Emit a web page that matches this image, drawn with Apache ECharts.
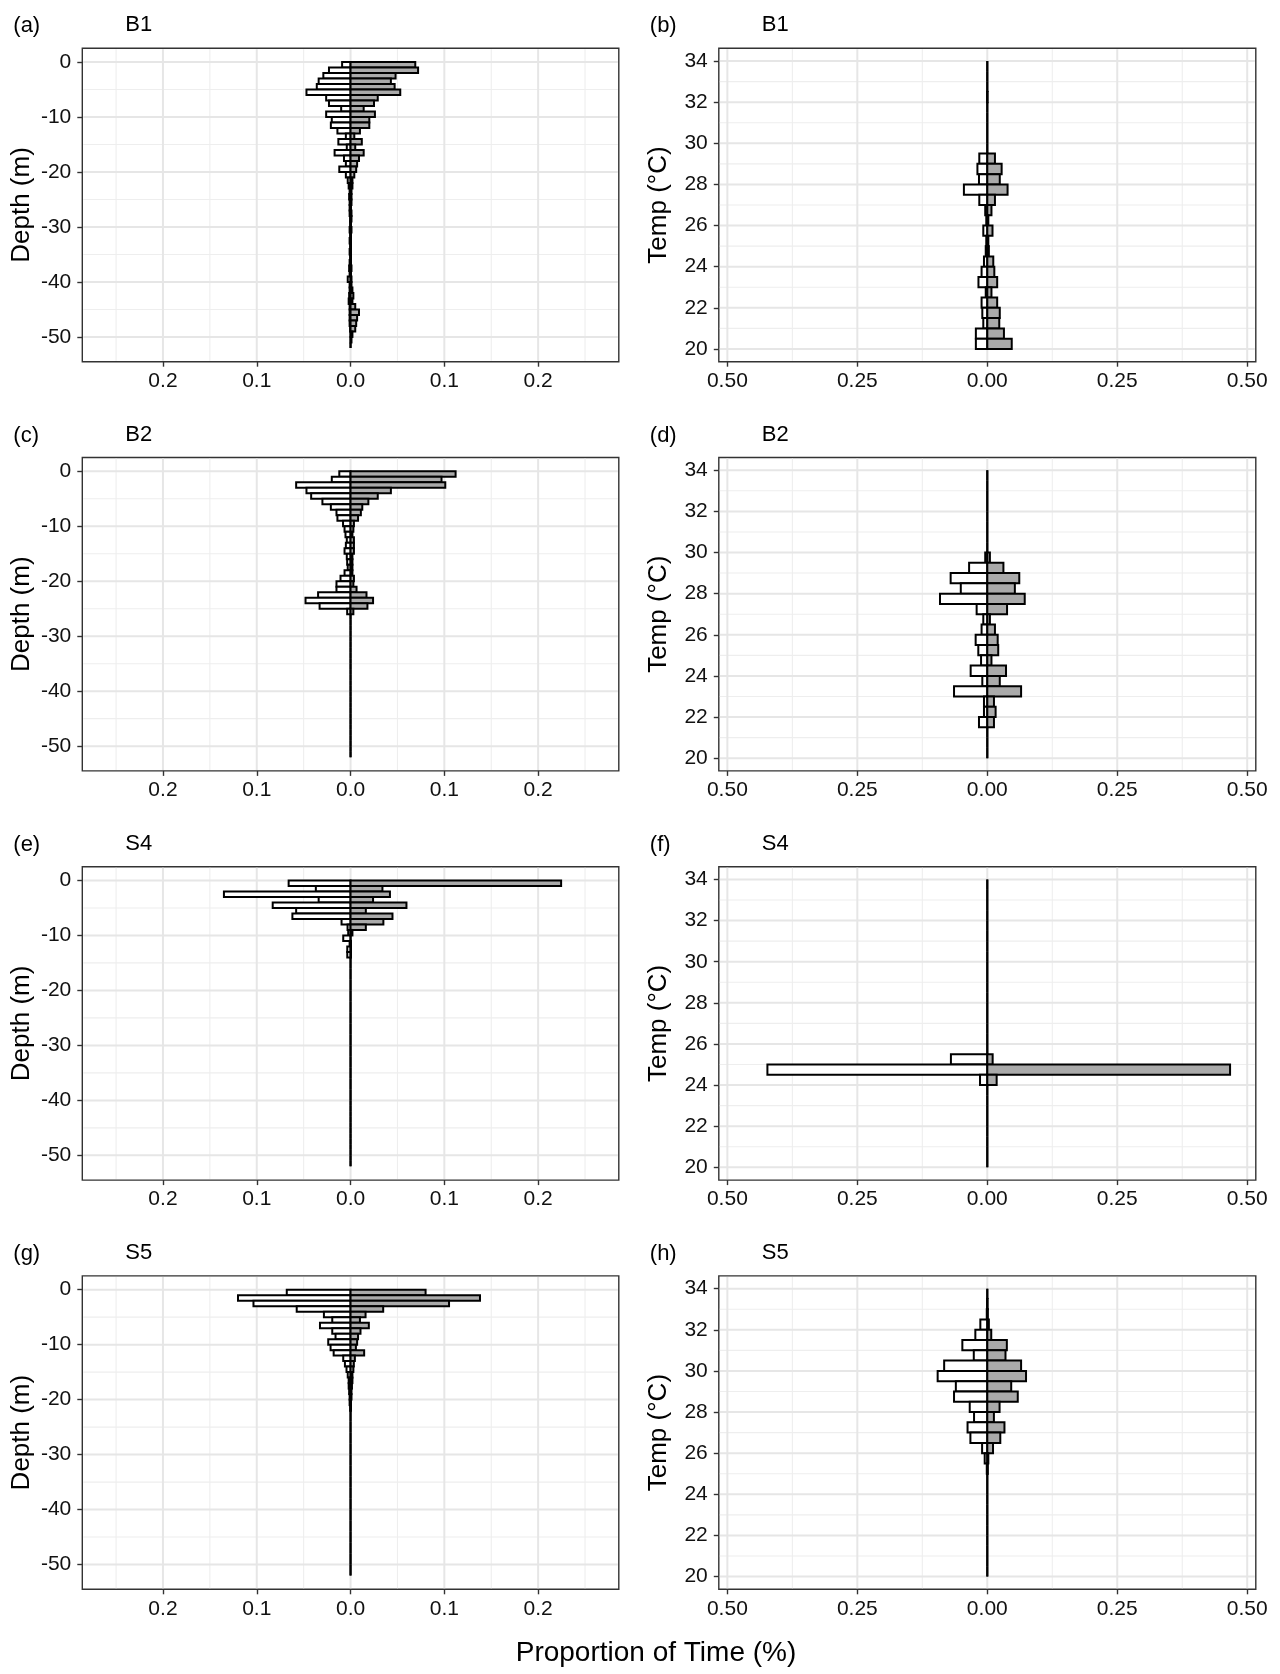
<!DOCTYPE html>
<html>
<head>
<meta charset="utf-8">
<script src="https://cdn.jsdelivr.net/npm/echarts@6/dist/echarts.min.js"></script>
<style>html,body{margin:0;padding:0;background:#fff}#chart{width:1280px;height:1674px}</style>
</head>
<body>
<div id="chart"></div>
<script>
// ---------- bins ----------
const depthBinTops = [0,-1,-2,-3,-4,-5,-6,-7,-8,-9,-10,-11,-12,-13,-14,-15,-16,-17,-18,-19,-20,-21,-22,-23,-24,-25,-26,-27,-28,-29,-30,-31,-32,-33,-34,-35,-36,-37,-38,-39,-40,-41,-42,-43,-44,-45,-46,-47,-48,-49,-50,-51];
const tempBinTops = [34,33.5,33,32.5,32,31.5,31,30.5,30,29.5,29,28.5,28,27.5,27,26.5,26,25.5,25,24.5,24,23.5,23,22.5,22,21.5,21,20.5];

// ---------- tick labels ----------
const depthTicks = [0,-10,-20,-30,-40,-50];
const depthMinorTicks = [-5,-15,-25,-35,-45];
const tempTicks = [20,22,24,26,28,30,32,34];
const tempMinorTicks = [21,23,25,27,29,31,33];
const depthPropTicks = [-0.2,-0.1,0,0.1,0.2];
const depthPropMinorTicks = [-0.25,-0.15,-0.05,0.05,0.15,0.25];
const tempPropTicks = [-0.5,-0.25,0,0.25,0.5];
const tempPropMinorTicks = [-0.375,-0.125,0.125,0.375];

// ---------- B1 ----------
const b1DepthWhite = [0.009,0.023,0.029,0.034,0.036,0.047,0.026,0.023,0.010,0.026,
 0.020,0.021,0.014,0.005,0.013,0.004,0.017,0.007,0.005,0.012,
 0.005,0.003,0.002,0.001,0.0015,0.001,0.001,0.001,0.0005,0.0005,
 0.001,0.0005,0.001,0.0005,0.001,0.0005,0.001,0.0015,0.001,0.003,
 0.001,0.001,0.0015,0.002,0.001,0.001,0.001,0.001,0.0005,0,
 0,0];
const b1DepthGrey = [0.069,0.072,0.048,0.043,0.047,0.053,0.029,0.025,0.014,0.026,
 0.020,0.020,0.010,0.004,0.012,0.005,0.014,0.009,0.007,0.006,
 0.004,0.002,0.002,0.001,0.001,0.001,0.0005,0.001,0.001,0.0005,
 0.001,0.0005,0.0005,0.0005,0.0005,0.0005,0.0005,0.001,0.0005,0.001,
 0.001,0.002,0.003,0.002,0.005,0.009,0.007,0.006,0.005,0.002,
 0.001,0];
const b1TempWhite = [0,0,0,0.0005,0,0,0,0,0,0.0154,
 0.019,0.016,0.045,0.0154,0.004,0.002,0.0077,0.002,0.003,0.0064,
 0.011,0.017,0.003,0.011,0.0096,0.0077,0.022,0.022];
const b1TempGrey = [0,0,0,0.0005,0,0,0,0,0,0.0147,
 0.0276,0.024,0.039,0.0147,0.008,0.002,0.010,0.002,0.003,0.0115,
 0.0135,0.019,0.008,0.019,0.024,0.023,0.032,0.047];

// ---------- B2 ----------
const b2DepthWhite = [0.012,0.020,0.058,0.047,0.042,0.030,0.021,0.015,0.014,0.008,
 0.0064,0.0054,0.004,0.005,0.0064,0.004,0.0036,0.003,0.0064,0.0107,
 0.015,0.015,0.0346,0.048,0.033,0.0036,0,0,0,0,
 0,0,0,0,0,0,0,0,0,0,
 0,0,0,0,0,0,0,0,0,0,
 0,0];
const b2DepthGrey = [0.112,0.097,0.101,0.043,0.029,0.019,0.0125,0.011,0.008,0.0036,
 0.003,0.002,0.0036,0.0036,0.0036,0.002,0.002,0.002,0.002,0.0036,
 0.003,0.0064,0.017,0.024,0.018,0.003,0,0,0,0,
 0,0,0,0,0,0,0,0,0,0,
 0,0,0,0,0,0,0,0,0,0,
 0,0];
const b2TempWhite = [0,0,0,0,0,0,0,0,0.004,0.035,
 0.0705,0.051,0.091,0.0205,0.0077,0.011,0.0224,0.0173,0.012,0.032,
 0.0096,0.064,0.0064,0.0064,0.016,0,0,0];
const b2TempGrey = [0,0,0,0,0,0,0,0,0.005,0.031,
 0.0615,0.053,0.072,0.038,0.005,0.0147,0.020,0.021,0.008,0.036,
 0.024,0.065,0.0128,0.016,0.0128,0,0,0];

// ---------- S4 ----------
const s4DepthWhite = [0.066,0.037,0.135,0.034,0.083,0.058,0.062,0.0096,0.0032,0.0025,
 0.0078,0.001,0.0035,0.0035,0,0,0,0,0,0,
 0,0,0,0,0,0,0,0,0,0,
 0,0,0,0,0,0,0,0,0,0,
 0,0,0,0,0,0,0,0,0,0,
 0,0];
const s4DepthGrey = [0.2245,0.034,0.042,0.024,0.0596,0.0163,0.0447,0.035,0.0163,0.002,
 0,0.0005,0.0005,0.0005,0,0,0,0,0,0,
 0,0,0,0,0,0,0,0,0,0,
 0,0,0,0,0,0,0,0,0,0,
 0,0,0,0,0,0,0,0,0,0,
 0,0];
const s4TempWhite = [0,0,0,0,0,0,0,0,0,0,
 0,0,0,0,0,0,0,0.070,0.423,0.014,
 0,0,0,0,0,0,0,0];
const s4TempGrey = [0,0,0,0,0,0,0,0,0,0,
 0,0,0,0,0,0,0,0.0103,0.467,0.018,
 0,0,0,0,0,0,0,0];

// ---------- S5 ----------
const s5DepthWhite = [0.068,0.120,0.1035,0.0574,0.0284,0.0195,0.0326,0.0195,0.016,0.0238,
 0.0213,0.018,0.0078,0.006,0.0043,0.003,0.002,0.002,0.0015,0.001,
 0.001,0.0005,0,0,0,0,0,0,0,0,
 0,0,0,0,0,0,0,0,0,0,
 0,0,0,0,0,0,0,0,0,0,
 0,0];
const s5DepthGrey = [0.080,0.138,0.105,0.0348,0.016,0.010,0.0195,0.0106,0.008,0.007,
 0.0057,0.0145,0.0046,0.0035,0.003,0.002,0.002,0.0015,0.001,0.001,
 0.0005,0.0005,0,0,0,0,0,0,0,0,
 0,0,0,0,0,0,0,0,0,0,
 0,0,0,0,0,0,0,0,0,0,
 0,0];
const s5TempWhite = [0,0.0005,0.001,0.0134,0.023,0.048,0.026,0.083,0.0955,0.0605,
 0.064,0.0338,0.0255,0.038,0.0325,0.010,0.005,0.001,0,0,
 0,0,0,0,0,0,0,0];
const s5TempGrey = [0,0.0005,0.001,0.003,0.0076,0.0376,0.035,0.065,0.0745,0.046,
 0.0586,0.0236,0.0127,0.033,0.025,0.011,0.002,0.001,0,0,
 0,0,0,0,0,0,0,0];

const panels = [
  {tag:'(a)', site:'B1', kind:'depth', white:b1DepthWhite, grey:b1DepthGrey},
  {tag:'(b)', site:'B1', kind:'temp',  white:b1TempWhite,  grey:b1TempGrey},
  {tag:'(c)', site:'B2', kind:'depth', white:b2DepthWhite, grey:b2DepthGrey},
  {tag:'(d)', site:'B2', kind:'temp',  white:b2TempWhite,  grey:b2TempGrey},
  {tag:'(e)', site:'S4', kind:'depth', white:s4DepthWhite, grey:s4DepthGrey},
  {tag:'(f)', site:'S4', kind:'temp',  white:s4TempWhite,  grey:s4TempGrey},
  {tag:'(g)', site:'S5', kind:'depth', white:s5DepthWhite, grey:s5DepthGrey},
  {tag:'(h)', site:'S5', kind:'temp',  white:s5TempWhite,  grey:s5TempGrey}
];

// ---------- layout ----------
const FONT = '"Liberation Sans", Arial, Helvetica, sans-serif';
const colLeft = [82.3, 718.8];
const colWidth = [536.5, 537];
const rowTop = [48.3, 457.5, 866.7, 1275.9];
const plotH = 313.4;

const cfg = {
  depth: {bins: depthBinTops, binSize: 1, yMin: -54.5, yMax: 2.5, yTicks: depthTicks, yMinor: depthMinorTicks,
          xLim: 0.286, xTicks: depthPropTicks, xMinor: depthPropMinorTicks, yName: 'Depth (m)', dec: 1, yRef: -20},
  temp:  {bins: tempBinTops, binSize: 0.5, yMin: 19.38, yMax: 34.62, yTicks: tempTicks, yMinor: tempMinorTicks,
          xLim: 0.5165, xTicks: tempPropTicks, xMinor: tempPropMinorTicks, yName: 'Temp (°C)', dec: 2, yRef: 27}
};

function vLine(style) {
  return function (params, api) {
    const cs = params.coordSys;
    const x = api.coord([api.value(0), api.value(1)])[0];
    return {type: 'line', silent: true, shape: {x1: x, y1: cs.y + 1, x2: x, y2: cs.y + cs.height - 1}, style: style};
  };
}
function hLine(style) {
  return function (params, api) {
    const cs = params.coordSys;
    const y = api.coord([api.value(0), api.value(1)])[1];
    return {type: 'line', silent: true, shape: {x1: cs.x + 1, y1: y, x2: cs.x + cs.width - 1, y2: y}, style: style};
  };
}
function barRender(fill) {
  return function (params, api) {
    const v = api.value(0), t = api.value(1), b = api.value(2);
    const p0 = api.coord([0, t]);
    const p1 = api.coord([v, b]);
    return {
      type: 'rect',
      shape: {x: Math.min(p0[0], p1[0]), y: Math.min(p0[1], p1[1]),
              width: Math.abs(p1[0] - p0[0]), height: Math.abs(p1[1] - p0[1])},
      style: {fill: fill, stroke: '#000', lineWidth: 2}
    };
  };
}

const majorStyle = {stroke: '#e6e6e6', lineWidth: 2};
const minorStyle = {stroke: '#eeeeee', lineWidth: 1.1};

const grids = [], xAxes = [], yAxes = [], series = [], graphics = [];

panels.forEach(function (p, i) {
  const row = Math.floor(i / 2), col = i % 2;
  const c = cfg[p.kind];
  grids.push({left: colLeft[col], top: rowTop[row], width: colWidth[col], height: plotH,
              show: true, borderColor: '#333', borderWidth: 1.4, backgroundColor: '#fff'});
  xAxes.push({
    gridIndex: i, type: 'value', min: -c.xLim, max: c.xLim,
    axisLine: {show: false, onZero: false},
    axisTick: {show: true, customValues: c.xTicks, length: 5, lineStyle: {color: '#333', width: 1.4}},
    axisLabel: {customValues: c.xTicks, fontSize: 21, fontFamily: FONT, color: '#111', margin: 9,
                formatter: function (v) { return Math.abs(v).toFixed(c.dec); }},
    splitLine: {show: false}
  });
  yAxes.push({
    gridIndex: i, type: 'value', min: c.yMin, max: c.yMax,
    axisLine: {show: false, onZero: false},
    axisTick: {show: true, customValues: c.yTicks, length: 5, lineStyle: {color: '#333', width: 1.4}},
    axisLabel: {customValues: c.yTicks, fontSize: 21, fontFamily: FONT, color: '#111', margin: 11,
                formatter: function (v) { return String(v); }},
    splitLine: {show: false},
    name: c.yName, nameLocation: 'middle', nameGap: 47, nameRotate: 90,
    nameTextStyle: {fontSize: 26, fontFamily: FONT, color: '#000'}
  });
  // grid lines
  series.push({type: 'custom', xAxisIndex: i, yAxisIndex: i, silent: true, z: 1,
               data: c.xMinor.map(function (v) { return [v, c.yRef]; }), renderItem: vLine(minorStyle)});
  series.push({type: 'custom', xAxisIndex: i, yAxisIndex: i, silent: true, z: 1,
               data: c.yMinor.map(function (v) { return [0, v]; }), renderItem: hLine(minorStyle)});
  series.push({type: 'custom', xAxisIndex: i, yAxisIndex: i, silent: true, z: 2,
               data: c.xTicks.map(function (v) { return [v, c.yRef]; }), renderItem: vLine(majorStyle)});
  series.push({type: 'custom', xAxisIndex: i, yAxisIndex: i, silent: true, z: 2,
               data: c.yTicks.map(function (v) { return [0, v]; }), renderItem: hLine(majorStyle)});
  // bars: white (left, negative) and grey (right, positive)
  series.push({type: 'custom', name: p.site + ' white', xAxisIndex: i, yAxisIndex: i, z: 5,
               encode: {x: 0, y: 1},
               data: c.bins.map(function (t, k) { return [-p.white[k], t, t - c.binSize]; }),
               renderItem: barRender('#ffffff')});
  series.push({type: 'custom', name: p.site + ' grey', xAxisIndex: i, yAxisIndex: i, z: 6,
               encode: {x: 0, y: 1},
               data: c.bins.map(function (t, k) { return [p.grey[k], t, t - c.binSize]; }),
               renderItem: barRender('#aaaaaa')});
  // panel labels
  graphics.push({type: 'text', x: colLeft[col] - 69, y: rowTop[row] - 22,
                 style: {text: p.tag, font: '22px ' + FONT, fill: '#000', align: 'left', verticalAlign: 'middle'}});
  graphics.push({type: 'text', x: colLeft[col] + 43, y: rowTop[row] - 23,
                 style: {text: p.site, font: '22px ' + FONT, fill: '#000', align: 'left', verticalAlign: 'middle'}});
});

graphics.push({type: 'text', x: 656, y: 1653,
               style: {text: 'Proportion of Time (%)', font: '28px ' + FONT, fill: '#000', align: 'center', verticalAlign: 'middle'}});

const chart = echarts.init(document.getElementById('chart'), null, {renderer: 'canvas'});
chart.setOption({
  animation: false,
  backgroundColor: '#ffffff',
  grid: grids,
  xAxis: xAxes,
  yAxis: yAxes,
  series: series,
  graphic: graphics
});
</script>
</body>
</html>
